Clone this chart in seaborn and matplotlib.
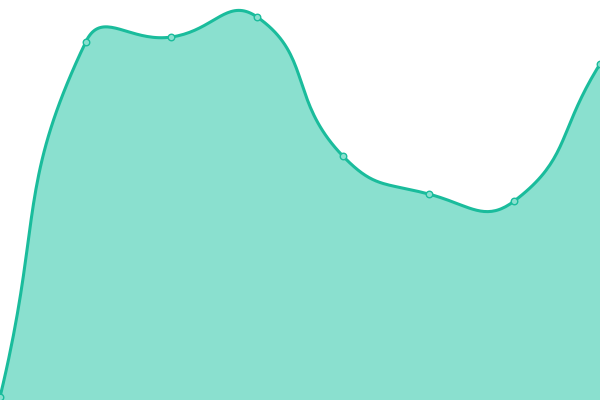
import numpy as np
import pandas as pd
import seaborn as sns
import matplotlib
matplotlib.use('Agg')
import matplotlib.pyplot as plt

# data
categories = [0, 1, 2, 3, 4, 5, 6, 7]
values = [3, 358, 363, 383, 244, 206, 199, 336]

line_color = '#1abc9c'
fill_color = '#8ae0cf'

df = pd.DataFrame({'x': categories, 'y': values})

# smooth curve in the style of a bezier-smoothed line (smooth = 0.5)
def smooth_curve(xs, ys, smooth=0.5, sx=600 / 7, n=40):
    px = np.array(xs, dtype=float) * sx
    py = np.array(ys, dtype=float)
    m = len(px)
    cin, cout = [], []
    for i in range(m):
        a = max(i - 1, 0)
        b = min(i + 1, m - 1)
        vx = px[b] - px[a]
        vy = py[b] - py[a]
        d0 = np.hypot(px[i] - px[a], py[i] - py[a])
        d1 = np.hypot(px[b] - px[i], py[b] - py[i])
        r = d1 / (d0 + d1)
        cin.append((px[i] - vx * smooth * (1 - r), py[i] - vy * smooth * (1 - r)))
        cout.append((px[i] + vx * smooth * r, py[i] + vy * smooth * r))
    ox, oy = [], []
    t = np.linspace(0, 1, n)
    for i in range(m - 1):
        p0 = np.array([px[i], py[i]])
        p1 = np.array(cout[i])
        p2 = np.array(cin[i + 1])
        p3 = np.array([px[i + 1], py[i + 1]])
        bz = ((1 - t) ** 3)[:, None] * p0 + (3 * (1 - t) ** 2 * t)[:, None] * p1 \
            + (3 * (1 - t) * t ** 2)[:, None] * p2 + (t ** 3)[:, None] * p3
        ox.extend(bz[:, 0] / sx)
        oy.extend(bz[:, 1])
    return np.array(ox), np.array(oy)

cx, cy = smooth_curve(df['x'], df['y'])
curve = pd.DataFrame({'x': cx, 'y': cy})

sns.set_style('white')
fig = plt.figure(figsize=(6, 4), dpi=100)
ax = fig.add_axes([0, 0, 1, 1])

ax.fill_between(curve['x'], curve['y'], 0, color=fill_color, lw=0)
sns.lineplot(data=curve, x='x', y='y', color=line_color, lw=2.2,
             sort=False, ax=ax, zorder=3)
sns.scatterplot(data=df, x='x', y='y', s=22, color=fill_color,
                edgecolor=line_color, linewidth=1, ax=ax, zorder=4)

ax.set_xlim(0, 7)
ax.set_ylim(0, 400)
ax.axis('off')

fig.savefig('out.png', dpi=100)
